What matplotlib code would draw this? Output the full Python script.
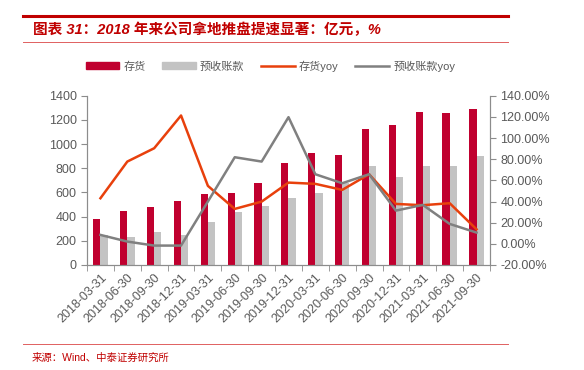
import numpy as np
import matplotlib.pyplot as plt
from matplotlib.patches import Patch
from matplotlib.lines import Line2D

plt.rcParams['font.family'] = ['Liberation Sans', 'Noto Sans CJK SC', 'DejaVu Sans']

dates = ['2018-03-31', '2018-06-30', '2018-09-30', '2018-12-31', '2019-03-31',
         '2019-06-30', '2019-09-30', '2019-12-31', '2020-03-31', '2020-06-30',
         '2020-09-30', '2020-12-31', '2021-03-31', '2021-06-30', '2021-09-30']
inventory = [378, 450, 483, 533, 591, 596, 677, 842, 928, 908, 1127, 1160, 1262, 1256, 1292]
advance = [245, 235, 273, 249, 359, 436, 489, 555, 596, 679, 817, 726, 817, 817, 903]
inventory_yoy = [43.1, 77.8, 90.4, 121.4, 54.8, 33.0, 39.9, 57.9, 56.7, 51.0, 65.8, 37.7, 36.5, 38.4, 13.7]
advance_yoy = [8.4, 2.1, -1.7, -1.7, 40.0, 81.9, 77.8, 119.8, 65.8, 57.3, 65.8, 31.4, 36.8, 18.8, 10.6]

red = '#C0002F'
lgray = '#C3C3C3'
orange = '#E8400C'
dgray = '#808080'
txt = '#595959'
axc = '#8C8C8C'

fig = plt.figure(figsize=(5.84, 3.70), dpi=100)

# title block
fig.add_artist(Line2D([0.04, 0.87], [0.958, 0.958], color='#C00000', lw=2.2))
fig.add_artist(Line2D([0.04, 0.87], [0.886, 0.886], color='#E06060', lw=0.7))
fig.text(0.056, 0.918, '图表 31：2018 年来公司拿地推盘提速显著：亿元，%', color='#C00000',
         fontsize=10.5, fontweight='bold', fontstyle='italic', va='center')
fig.add_artist(Line2D([0.04, 0.87], [0.07, 0.07], color='#E06060', lw=0.7))
fig.text(0.054, 0.032, '来源：Wind、中泰证券研究所', color='#C00000', fontsize=7.5, va='center')

ax = fig.add_axes([0.149, 0.284, 0.69, 0.457])
x = np.arange(len(dates))
w = 0.27
ax.bar(x - w / 2, inventory, w, color=red, zorder=2)
ax.bar(x + w / 2, advance, w, color=lgray, zorder=2)
ax.set_ylim(0, 1400)
ax.set_yticks(range(0, 1401, 200))
ax.set_xlim(-0.5, len(dates) - 0.5)
ax.set_xticks(x)
ax.set_xticklabels(dates, rotation=45, ha='right', rotation_mode='anchor')
ax.set_xticks(np.arange(-0.5, len(dates)), minor=True)
ax.tick_params(axis='x', which='major', length=0, pad=5, labelsize=9, labelcolor=txt)
ax.tick_params(axis='x', which='minor', length=4, color=axc, direction='out')
ax.tick_params(axis='y', length=4, color=axc, labelsize=9, labelcolor=txt)
ax.spines['top'].set_visible(False)
for s in ['left', 'bottom', 'right']:
    ax.spines[s].set_color(axc)

ax2 = ax.twinx()
ax2.plot(x, inventory_yoy, color=orange, lw=1.8, zorder=3)
ax2.plot(x, advance_yoy, color=dgray, lw=1.8, zorder=3)
ax2.set_ylim(-20, 140)
ax2.set_yticks(range(-20, 141, 20))
ax2.set_yticklabels([f'{v:.2f}%' for v in range(-20, 141, 20)])
ax2.tick_params(axis='y', length=4, color=axc, labelsize=9, labelcolor=txt)
ax2.spines['top'].set_visible(False)
for s in ['left', 'bottom', 'right']:
    ax2.spines[s].set_color(axc)

handles = [Patch(color=red), Patch(color=lgray),
           Line2D([], [], color=orange, lw=1.8), Line2D([], [], color=dgray, lw=1.8)]
labels = ['存货', '预收账款', '存货yoy', '预收账款yoy']
fig.legend(handles, labels, loc='center', bbox_to_anchor=(0.463, 0.822), ncol=4,
           frameon=False, fontsize=8, labelcolor=txt, handlelength=3.0, handleheight=0.5,
           columnspacing=1.5, handletextpad=0.4)

fig.savefig('out.png', dpi=100)
